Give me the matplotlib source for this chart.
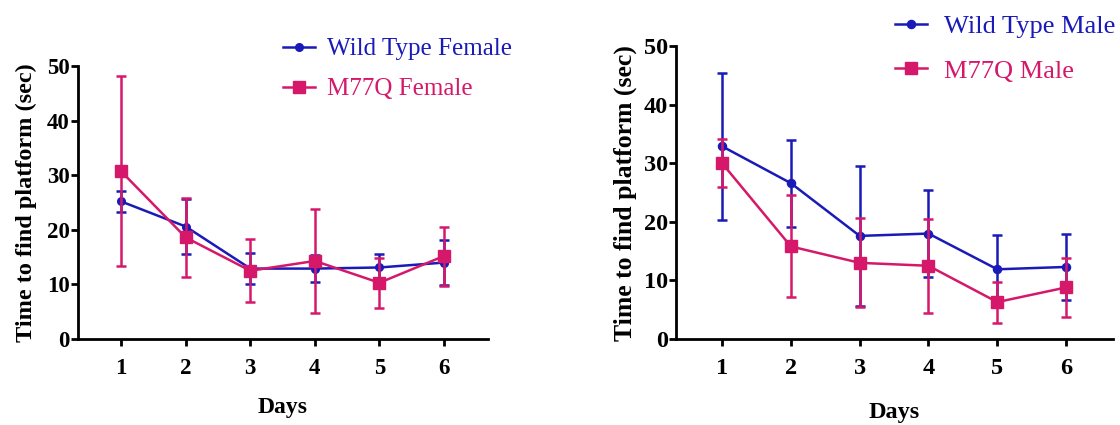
import matplotlib
matplotlib.use("Agg")
import matplotlib.pyplot as plt

days = [1, 2, 3, 4, 5, 6]
day_labels = ["1", "2", "3", "4", "5", "6"]

wt_female = [25.2, 20.6, 12.9, 12.9, 13.1, 14.0]
wt_female_err = [2.0, 5.0, 2.9, 2.5, 2.5, 4.1]
m77q_female = [30.7, 18.6, 12.5, 14.3, 10.3, 15.2]
m77q_female_err = [17.4, 7.3, 5.8, 9.5, 4.6, 5.4]

wt_male = [32.9, 26.6, 17.6, 18.0, 11.9, 12.3]
wt_male_err = [12.5, 7.4, 12.0, 7.5, 5.8, 5.7]
m77q_male = [30.0, 15.8, 13.0, 12.5, 6.3, 8.8]
m77q_male_err = [4.1, 8.7, 7.6, 8.0, 3.5, 5.0]

BLUE = "#1a1ab8"
PINK = "#d6186a"
FONT = "Liberation Serif"

fig = plt.figure(figsize=(11.2, 4.25), dpi=100)

def panel(rect, wt, wt_err, mq, mq_err, wt_lab, mq_lab, leg_xy, scale,
          legsize, legspacing, hlen, hpad, ylpad, xlpad, xlsize):
    ax = fig.add_axes(rect)
    ax.errorbar(days, mq, yerr=mq_err, color=PINK, marker="s", ms=8.5*scale,
                lw=1.8, elinewidth=1.8, capsize=3.5, capthick=1.8, label=mq_lab, zorder=3)
    ax.errorbar(days, wt, yerr=wt_err, color=BLUE, marker="o", ms=5.5*scale,
                lw=1.8, elinewidth=1.8, capsize=3.5, capthick=1.8, label=wt_lab, zorder=2)
    ax.set_xlim(0.33, 6.68)
    ax.set_ylim(0, 50)
    ax.set_yticks([0, 10, 20, 30, 40, 50])
    ax.set_xticks(days)
    ax.set_xticklabels(day_labels)
    for s in ["top", "right"]:
        ax.spines[s].set_visible(False)
    for s in ["left", "bottom"]:
        ax.spines[s].set_linewidth(2.0)
    ax.tick_params(axis="both", width=2.0, length=5, direction="out")
    ax.tick_params(axis="x", pad=9)
    ax.tick_params(axis="y", pad=1)
    for t in ax.get_xticklabels() + ax.get_yticklabels():
        t.set_fontfamily(FONT)
        t.set_fontweight("bold")
        t.set_fontsize(16.5 * scale)
    ax.set_ylabel("Time to find platform (sec)", fontfamily=FONT, fontweight="bold",
                  fontsize=17.5 * scale, labelpad=ylpad)
    ax.set_xlabel("Days", fontfamily=FONT, fontweight="bold", fontsize=xlsize,
                  labelpad=xlpad)
    handles, labels = ax.get_legend_handles_labels()
    handles = [h[0] for h in handles[::-1]]
    labels = labels[::-1]
    leg = fig.legend(handles, labels, loc="upper left", bbox_to_anchor=leg_xy,
                     frameon=False, prop={"family": FONT, "size": legsize},
                     handlelength=hlen, handletextpad=hpad, labelspacing=legspacing,
                     borderaxespad=0, borderpad=0)
    for txt, c in zip(leg.get_texts(), [BLUE, PINK]):
        txt.set_color(c)
    return ax

panel([0.0696, 0.2024, 0.366, 0.642], wt_female, wt_female_err, m77q_female,
      m77q_female_err, "Wild Type Female", "M77Q Female", (0.2527, 0.911), 1.0,
      18, 0.7, 1.28, 0.48, 7, 13, 17)
panel([0.6036, 0.2024, 0.390, 0.689], wt_male, wt_male_err, m77q_male,
      m77q_male_err, "Wild Type Male", "M77Q Male", (0.799, 0.966), 1.06,
      19, 0.8, 1.2, 0.68, 5, 16, 17.5)

fig.savefig("out.png", dpi=100)
